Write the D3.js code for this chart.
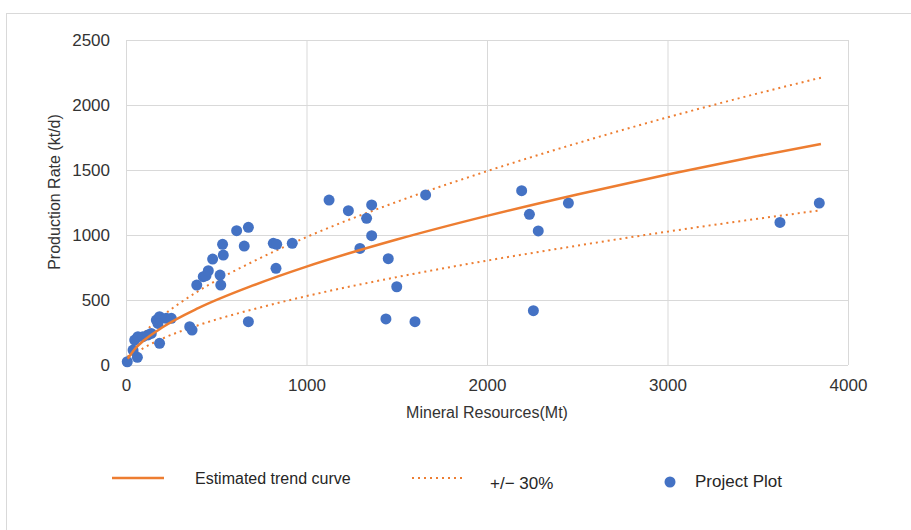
<!DOCTYPE html>
<html>
<head>
<meta charset="utf-8">
<script src="https://cdn.jsdelivr.net/npm/d3@7"></script>
<style>
  body { margin: 0; background: #fff; }
  svg { display: block; font-family: "Liberation Sans", Arial, sans-serif; }
</style>
</head>
<body>
<svg id="chart" width="911" height="530"></svg>
<script>
// project plots: mineral resources (Mt) vs production rate (kt/d)
const resources = [7, 63, 39, 48, 66, 94, 122, 140, 186, 168, 186, 223, 251, 177, 353, 366,
  678, 392, 428, 443, 456, 521, 525, 480, 539, 535, 613, 678, 655, 816, 835, 831, 921,
  1125, 1232, 1361, 1333, 1361, 1296, 1453, 1500, 1440, 1601, 1660,
  2192, 2235, 2284, 2451, 2257, 3623, 3841];
const production = [25, 59, 115, 192, 218, 218, 231, 243, 167, 346, 372, 359, 359, 320, 295, 269,
  333, 615, 679, 687, 725, 692, 615, 815, 846, 928, 1033, 1059, 915, 936, 928, 744, 936,
  1269, 1187, 1231, 1128, 995, 897, 818, 602, 354, 333, 1308,
  1341, 1159, 1031, 1246, 418, 1097, 1246];

// trend curve and +/- 30% band
const trendX = [10, 50, 100, 200, 400, 700, 1000, 1500, 2000, 2500, 3000, 3500, 3850];
const trendY = [48, 125, 190, 288, 437, 610, 757, 965, 1147, 1312, 1465, 1607, 1700];
const upperY = [62, 163, 247, 374, 568, 793, 984, 1255, 1491, 1706, 1905, 2089, 2210];
const lowerY = [34, 88, 133, 202, 306, 427, 530, 676, 803, 918, 1026, 1125, 1190];

const xTicks = [0, 1000, 2000, 3000, 4000];
const yTicks = [0, 500, 1000, 1500, 2000, 2500];

const orange = '#ED7D31';
const blue = '#4472C4';

const svg = d3.select('#chart');

// outer frame of the chart
svg.append('rect')
  .attr('x', 6.5).attr('y', 13.5)
  .attr('width', 920).attr('height', 540)
  .attr('fill', 'none')
  .attr('stroke', '#d9d9d9');

const x = d3.scaleLinear().domain([0, 4000]).range([126, 848]);
const y = d3.scaleLinear().domain([0, 2500]).range([365, 40]);

// grid
svg.append('g')
  .selectAll('line.h')
  .data(yTicks)
  .enter()
  .append('line')
  .attr('x1', x(0)).attr('x2', x(4000))
  .attr('y1', d => y(d) + 0.5).attr('y2', d => y(d) + 0.5)
  .attr('stroke', '#d9d9d9');

svg.append('g')
  .selectAll('line.v')
  .data(xTicks)
  .enter()
  .append('line')
  .attr('y1', y(0)).attr('y2', y(2500))
  .attr('x1', d => x(d) + 0.5).attr('x2', d => x(d) + 0.5)
  .attr('stroke', '#d9d9d9');

// axes (labels only)
const xAxis = svg.append('g')
  .attr('transform', `translate(0, ${y(0)})`)
  .call(d3.axisBottom(x).tickValues(xTicks).tickFormat(d3.format('d')).tickSize(0).tickPadding(14));
const yAxis = svg.append('g')
  .attr('transform', `translate(${x(0)}, 0)`)
  .call(d3.axisLeft(y).tickValues(yTicks).tickFormat(d3.format('d')).tickSize(0).tickPadding(16));

[xAxis, yAxis].forEach(a => {
  a.select('.domain').remove();
  a.selectAll('text')
    .style('font-family', '"Liberation Sans", Arial, sans-serif')
    .style('font-size', '17px')
    .attr('fill', '#333');
});

svg.append('text')
  .attr('x', 487).attr('y', 418)
  .attr('text-anchor', 'middle')
  .style('font-size', '16px')
  .attr('fill', '#333')
  .text('Mineral Resources(Mt)');

svg.append('text')
  .attr('transform', 'translate(60, 192) rotate(-90)')
  .attr('text-anchor', 'middle')
  .style('font-size', '16px')
  .attr('fill', '#333')
  .text('Production Rate (kt/d)');

// curves
const line = d3.line()
  .x(d => x(d[0]))
  .y(d => y(d[1]))
  .curve(d3.curveMonotoneX);

svg.append('path')
  .attr('d', line(trendX.map((v, i) => [v, upperY[i]])))
  .attr('fill', 'none').attr('stroke', orange)
  .attr('stroke-width', 2).attr('stroke-dasharray', '2,4');

svg.append('path')
  .attr('d', line(trendX.map((v, i) => [v, lowerY[i]])))
  .attr('fill', 'none').attr('stroke', orange)
  .attr('stroke-width', 2).attr('stroke-dasharray', '2,4');

// points
svg.append('g')
  .selectAll('circle')
  .data(resources.map((v, i) => [v, production[i]]))
  .enter()
  .append('circle')
  .attr('cx', d => x(d[0]))
  .attr('cy', d => y(d[1]))
  .attr('r', 5.5)
  .attr('fill', blue);

svg.append('path')
  .attr('d', line(trendX.map((v, i) => [v, trendY[i]])))
  .attr('fill', 'none').attr('stroke', orange)
  .attr('stroke-width', 2.5);

// legend
const legend = svg.append('g');
legend.append('line')
  .attr('x1', 112).attr('x2', 164).attr('y1', 478).attr('y2', 478)
  .attr('stroke', orange).attr('stroke-width', 2.5);
legend.append('text')
  .attr('x', 195).attr('y', 484)
  .style('font-size', '16px').attr('fill', '#262626')
  .text('Estimated trend curve');

legend.append('line')
  .attr('x1', 412).attr('x2', 465).attr('y1', 478).attr('y2', 478)
  .attr('stroke', orange).attr('stroke-width', 2).attr('stroke-dasharray', '2,4');
legend.append('text')
  .attr('x', 490).attr('y', 489)
  .style('font-size', '17px').attr('fill', '#262626')
  .text('+/\u2212 30%');

legend.append('circle')
  .attr('cx', 670).attr('cy', 482).attr('r', 5.5)
  .attr('fill', blue);
legend.append('text')
  .attr('x', 695).attr('y', 487)
  .style('font-size', '17px').attr('fill', '#262626')
  .text('Project Plot');
</script>
</body>
</html>
